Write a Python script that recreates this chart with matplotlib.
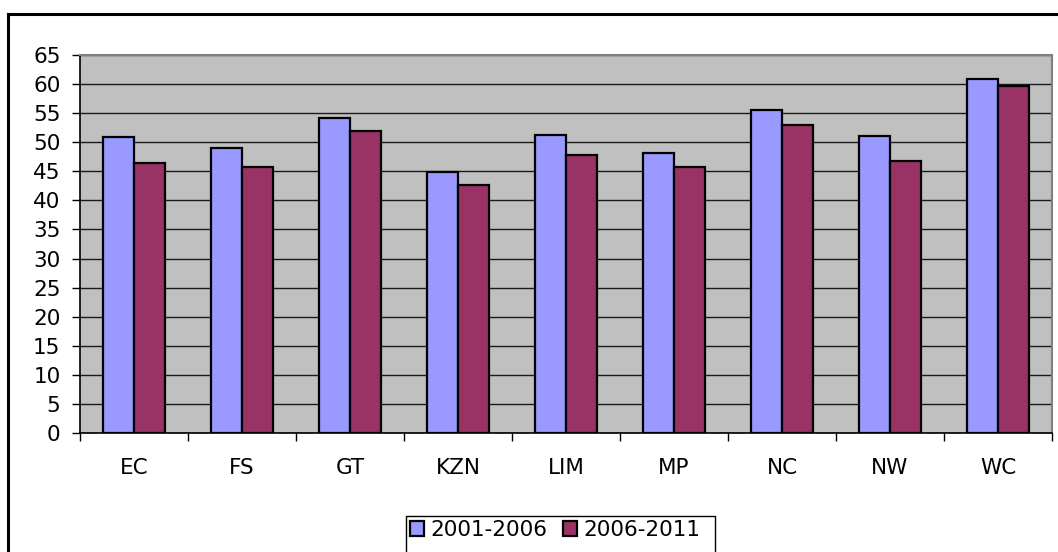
import matplotlib.pyplot as plt
import numpy as np
from matplotlib.patches import Rectangle
from matplotlib.lines import Line2D

provinces = ['EC', 'FS', 'GT', 'KZN', 'LIM', 'MP', 'NC', 'NW', 'WC']
series_labels = ['2001-2006', '2006-2011']
vals_2001_2006 = [50.9, 49.0, 54.2, 44.8, 51.3, 48.1, 55.5, 51.0, 60.9]
vals_2006_2011 = [46.4, 45.8, 51.9, 42.6, 47.8, 45.8, 52.9, 46.7, 59.7]
y_ticks = list(range(0, 66, 5))

W, H = 1058, 552
FS = 15.5
plt.rcParams['font.family'] = ['DejaVu Sans']
fig = plt.figure(figsize=(W / 100, H / 100), dpi=100)

# axes box in pixels: left 80, right 1052, top 55, bottom 433
ax = fig.add_axes([80 / W, (H - 433) / H, (1052 - 80) / W, (433 - 55) / H])
ax.set_facecolor('#c0c0c0')

x = np.arange(len(provinces))
bw = 1 / 3.5
ax.bar(x - bw / 2, vals_2001_2006, bw, color='#9999ff', edgecolor='black',
       linewidth=1.6, label=series_labels[0], zorder=3)
ax.bar(x + bw / 2, vals_2006_2011, bw, color='#993366', edgecolor='black',
       linewidth=1.6, label=series_labels[1], zorder=3)

ax.set_xlim(-0.5, len(provinces) - 0.5)
ax.set_ylim(0, 65)
ax.set_yticks(y_ticks)
ax.yaxis.grid(True, color='#1a1a1a', linewidth=1.0, zorder=1)
ax.set_axisbelow(True)

# ticks at category borders, labels at centers
ax.set_xticks(np.arange(-0.5, len(provinces)), labels=[''] * (len(provinces) + 1))
ax.set_xticks(x, labels=provinces, minor=True)
ax.tick_params(axis='x', which='major', direction='out', length=6, width=1, color='black')
ax.tick_params(axis='x', which='minor', length=0, pad=18, labelsize=FS)
ax.tick_params(axis='y', direction='out', length=6, width=1, pad=8, labelsize=FS)

for s in ['top', 'right']:
    ax.spines[s].set_color('#808080')
    ax.spines[s].set_linewidth(1.5)
for s in ['left', 'bottom']:
    ax.spines[s].set_color('black')
    ax.spines[s].set_linewidth(1.2)

# outer chart border (only top and left visible in the crop)
fig.add_artist(Line2D([8 / W, 1], [1 - 14 / H, 1 - 14 / H], color='black', lw=2.2,
                      transform=fig.transFigure))
fig.add_artist(Line2D([8 / W, 8 / W], [0, 1 - 14 / H], color='black', lw=2.2,
                      transform=fig.transFigure))

# legend box
fig.add_artist(Rectangle((406 / W, -0.05), (715 - 406) / W, 0.05 + (H - 516) / H,
                         transform=fig.transFigure, facecolor='white',
                         edgecolor='black', lw=1.0))
handles, labels = ax.get_legend_handles_labels()
leg = fig.legend(handles, labels, loc='center left', ncol=2, frameon=False,
                 bbox_to_anchor=(410 / W, 1 - 530 / H), fontsize=FS,
                 handlelength=0.65, handleheight=0.65, handletextpad=0.3,
                 columnspacing=0.7, borderpad=0, borderaxespad=0)

fig.savefig('out.png', dpi=100)
